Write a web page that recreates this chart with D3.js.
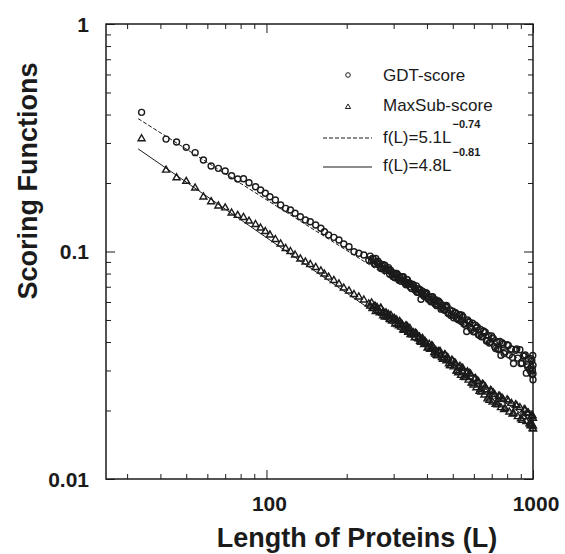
<!DOCTYPE html>
<html>
<head>
<meta charset="utf-8">
<script src="https://cdn.jsdelivr.net/npm/d3@7"></script>
<style>
  html, body { margin: 0; padding: 0; background: #fff; }
  svg { display: block; font-family: "Liberation Sans", Arial, sans-serif; }
</style>
</head>
<body>
<svg id="chart" width="565" height="554"></svg>
<script>
// ---- data ----
const lengths = [
  34,42,46,50,54,58,62,66,70,74,
  78,82,86,91,95,99,103,108,113,118,
  123,128,134,140,146,153,160,165,171,179,
  187,195,204,213,222,232,242,
  245,248,251,254,257,260,263,266,269,272,
  275,278,281,284,287,290,293,296,300,304,
  308,312,316,320,324,328,332,336,340,345,
  350,355,360,365,370,375,380,385,390,396,
  402,408,414,420,426,432,438,445,452,459,
  466,473,480,488,496,504,512,520,528,537,
  546,555,564,573,583,593,603,613,624,635,
  646,657,669,681,693,705,718,731,744,758,
  772,786,800,815,830,845,861,877,893,910,
  927,944,961,978,990,1000,
  950,985,995,998,1000,
  302,310,318,326,334,342,352,362,372,382,
  393,405,417,429,441,455,469,484,500,516,
  532,550,568,588,608,630,652,675,699,724,
  751,779,808,838,869,901,935,970,
  920,955,982,992,1000,
  250,256,262,268,274,280,286,292,298,306,
  314,322,330,338,347,357,367,377,388,399,
  411,423,435,448,462,476,492,508,524,541,
  559,578,598,618,640,662,686,710,737,765
];
const gdtScore = [
  0.409,0.312,0.303,0.287,0.272,0.2525,0.2375,0.232,0.2258,0.2154,
  0.2083,0.2089,0.2006,0.1927,0.1864,0.1802,0.1741,0.1684,0.1601,0.1548,
  0.1522,0.1472,0.1422,0.1375,0.1352,0.1308,0.1265,0.1222,0.1182,0.1154,
  0.1123,0.1079,0.105,0.0998,0.0982,0.0965,0.0918,
  0.0954,0.0909,0.0929,0.0885,0.0932,0.0895,0.0876,0.0887,0.0841,0.0861,
  0.0840,0.0870,0.0825,0.0838,0.0849,0.0795,0.0816,0.0790,0.0804,0.0767,
  0.0801,0.0765,0.0776,0.0740,0.0770,0.0747,0.0725,0.0754,0.0718,0.0723,
  0.0687,0.0714,0.0686,0.0706,0.0663,0.0677,0.0617,0.0669,0.0635,0.0659,
  0.0626,0.0632,0.0601,0.0633,0.0598,0.0613,0.0586,0.0600,0.0558,0.0580,
  0.0552,0.0579,0.0535,0.0554,0.0530,0.0511,0.0538,0.0508,0.0524,0.0494,
  0.0515,0.0482,0.0445,0.0492,0.0462,0.0484,0.0445,0.0461,0.0431,0.0454,
  0.0423,0.0440,0.0404,0.0427,0.0400,0.0417,0.0382,0.0401,0.0373,0.0350,
  0.0391,0.0362,0.0389,0.0351,0.0373,0.0322,0.0368,0.0340,0.0370,0.0323,
  0.0347,0.0292,0.0338,0.0298,0.0332,0.0273,
  0.0318,0.0309,0.0301,0.0349,0.0290,
  0.0770,0.0792,0.0758,0.0774,0.0714,0.0729,0.0719,0.0676,0.0687,0.0653,
  0.0650,0.0616,0.0630,0.0588,0.0606,0.0566,0.0571,0.0532,0.0547,0.0510,
  0.0527,0.0481,0.0500,0.0454,0.0474,0.0428,0.0447,0.0405,0.0425,0.0375,
  0.0402,0.0356,0.0386,0.0342,0.0373,0.0322,0.0351,0.0304,
  0.0347,0.0311,0.0338,0.0288,0.0316,
  0.0931,0.0880,0.0906,0.0853,0.0874,0.0826,0.0834,0.0828,0.0777,0.0788,
  0.0747,0.0774,0.0736,0.0750,0.0699,0.0704,0.0662,0.0680,0.0644,0.0655,
  0.0611,0.0618,0.0578,0.0591,0.0556,0.0572,0.0523,0.0536,0.0501,0.0525,
  0.0474,0.0489,0.0444,0.0466,0.0422,0.0442,0.0396,0.0414,0.0372,0.0397
];
const maxSubScore = [
  0.313,0.228,0.2109,0.2035,0.1901,0.1737,0.1655,0.1585,0.1556,0.1476,
  0.1442,0.1411,0.1361,0.1314,0.1268,0.1224,0.1182,0.1129,0.1079,0.1031,
  0.1,0.0965,0.0927,0.0899,0.0877,0.0851,0.0821,0.0796,0.0772,0.0746,
  0.072,0.0691,0.0671,0.0647,0.0631,0.0612,0.0588,
  0.0576,0.0595,0.0561,0.0573,0.0545,0.0568,0.0552,0.0538,0.0562,0.0536,
  0.0541,0.0515,0.0537,0.0517,0.0528,0.0504,0.0524,0.0495,0.0505,0.0480,
  0.0500,0.0480,0.0493,0.0465,0.0474,0.0450,0.0469,0.0455,0.0442,0.0459,
  0.0437,0.0440,0.0418,0.0434,0.0415,0.0421,0.0399,0.0415,0.0390,0.0397,
  0.0376,0.0391,0.0374,0.0383,0.0360,0.0367,0.0348,0.0362,0.0351,0.0336,
  0.0352,0.0331,0.0340,0.0315,0.0333,0.0311,0.0322,0.0299,0.0309,0.0286,
  0.0306,0.0284,0.0292,0.0272,0.0289,0.0264,0.0275,0.0252,0.0268,0.0248,
  0.0261,0.0234,0.0247,0.0229,0.0245,0.0218,0.0235,0.0216,0.0231,0.0206,
  0.0224,0.0204,0.0223,0.0197,0.0215,0.0194,0.0212,0.0188,0.0206,0.0181,
  0.0202,0.0179,0.0195,0.0172,0.0188,0.0166,
  0.0195,0.0172,0.0190,0.0167,0.0185,
  0.0508,0.0478,0.0482,0.0453,0.0472,0.0445,0.0430,0.0438,0.0413,0.0410,
  0.0404,0.0378,0.0386,0.0354,0.0364,0.0342,0.0350,0.0321,0.0330,0.0298,
  0.0313,0.0280,0.0296,0.0264,0.0277,0.0243,0.0259,0.0225,0.0243,0.0213,
  0.0231,0.0202,0.0220,0.0193,0.0210,0.0184,0.0201,0.0175,
  0.0188,0.0194,0.0176,0.0190,0.0171,
  0.0563,0.0574,0.0548,0.0563,0.0522,0.0533,0.0529,0.0501,0.0502,0.0497,
  0.0472,0.0480,0.0457,0.0467,0.0431,0.0438,0.0430,0.0403,0.0400,0.0394,
  0.0372,0.0377,0.0350,0.0364,0.0337,0.0343,0.0315,0.0324,0.0293,0.0308,
  0.0279,0.0291,0.0259,0.0270,0.0241,0.0254,0.0222,0.0239,0.0212,0.0227
];
// fitted power laws f(L) = a * L^b, from the legend
const fitNames = ["f(L)=5.1L", "f(L)=4.8L"];
const fitA = [5.1, 4.8];
const fitB = [-0.74, -0.81];
const fitExpLabels = ["\u22120.74", "\u22120.81"];
const fitRange = [33, 1000];
const seriesNames = ["GDT-score", "MaxSub-score"];

const xDomain = [25, 1000];
const yDomain = [0.01, 1];
const xMajorTicks = [100, 1000];
const xMinorTicks = [30,40,50,60,70,80,90,200,300,400,500,600,700,800,900];
const yMajorTicks = [0.01, 0.1, 1];
const yMinorTicks = [0.02,0.03,0.04,0.05,0.06,0.07,0.08,0.09,0.2,0.3,0.4,0.5,0.6,0.7,0.8,0.9];
const xTickLabels = ["100", "1000"];
const yTickLabels = ["0.01", "0.1", "1"];

// ---- drawing ----
const svg = d3.select("#chart");
const L = 106, R = 533, T = 24, B = 479;
const ink = "#1b1b1b";

const x = d3.scaleLog().domain(xDomain).range([L, R]);
const y = d3.scaleLog().domain(yDomain).range([B, T]);

// ticks (inside)
function tickAxis(axisFn, scale, values, size, tx, ty) {
  const g = svg.append("g").attr("transform", `translate(${tx},${ty})`)
    .call(axisFn(scale).tickValues(values).tickSize(size).tickFormat(""));
  g.select(".domain").remove();
  g.selectAll(".tick line").attr("stroke", ink).attr("stroke-width", 1);
}
tickAxis(d3.axisBottom, x, xMinorTicks, -5, 0, B);
tickAxis(d3.axisBottom, x, xMajorTicks, -9, 0, B);
tickAxis(d3.axisTop, x, xMinorTicks, -5, 0, T);
tickAxis(d3.axisTop, x, xMajorTicks, -9, 0, T);
tickAxis(d3.axisLeft, y, yMinorTicks, -5, L, 0);
tickAxis(d3.axisLeft, y, yMajorTicks, -9, L, 0);
tickAxis(d3.axisRight, y, yMinorTicks, -5, R, 0);
tickAxis(d3.axisRight, y, yMajorTicks, -9, R, 0);

// frame
svg.append("rect").attr("x", L).attr("y", T).attr("width", R - L).attr("height", B - T)
  .attr("fill", "none").attr("stroke", ink).attr("stroke-width", 1.5);

// tick labels
svg.selectAll(".xl").data(xMajorTicks).enter().append("text")
  .attr("x", d => x(d) + 3).attr("y", 511)
  .attr("text-anchor", "middle").attr("font-size", 21).attr("font-weight", "bold")
  .attr("fill", ink).text((d, i) => xTickLabels[i]);
svg.selectAll(".yl").data(yMajorTicks).enter().append("text")
  .attr("x", 89).attr("y", d => y(d)).attr("dy", "0.36em")
  .attr("text-anchor", "end").attr("font-size", 21).attr("font-weight", "bold")
  .attr("fill", ink).text((d, i) => yTickLabels[i]);

// axis titles
svg.append("text").attr("x", 357).attr("y", 547).attr("text-anchor", "middle")
  .attr("font-size", 27).attr("font-weight", "bold").attr("fill", ink)
  .text("Length of Proteins (L)");
svg.append("text").attr("transform", "translate(37,181) rotate(-90)")
  .attr("text-anchor", "middle").attr("font-size", 27).attr("font-weight", "bold")
  .attr("fill", ink).text("Scoring Functions");

// fit lines
const line = d3.line().x(d => x(d[0])).y(d => y(d[1]));
const fitDash = ["4,2", null];
fitA.forEach((a, i) => {
  const pts = fitRange.map(l => [l, a * Math.pow(l, fitB[i])]);
  svg.append("path").attr("d", line(pts)).attr("fill", "none")
    .attr("stroke", ink).attr("stroke-width", 1)
    .attr("stroke-dasharray", fitDash[i]);
});

// points
const pts = lengths.map((l, i) => ({ l, g: gdtScore[i], m: maxSubScore[i] }));
svg.append("g").selectAll("circle").data(pts).enter().append("circle")
  .attr("cx", d => x(d.l)).attr("cy", d => y(d.g)).attr("r", 3)
  .attr("fill", "none").attr("stroke", ink).attr("stroke-width", 1.4);
const tri = d3.symbol().type(d3.symbolTriangle).size(21);
svg.append("g").selectAll("path").data(pts).enter().append("path")
  .attr("d", tri).attr("transform", d => `translate(${x(d.l)},${y(d.m)})`)
  .attr("fill", "none").attr("stroke", ink).attr("stroke-width", 1.4);

// legend
const leg = svg.append("g");
leg.append("circle").attr("cx", 348).attr("cy", 75).attr("r", 2.3)
  .attr("fill", "none").attr("stroke", ink).attr("stroke-width", 1);
leg.append("path").attr("d", d3.symbol().type(d3.symbolTriangle).size(12))
  .attr("transform", "translate(348,107)")
  .attr("fill", "none").attr("stroke", ink).attr("stroke-width", 1);
const legY = [75, 105];
seriesNames.forEach((s, i) => {
  leg.append("text").attr("x", 383).attr("y", legY[i]).attr("dy", "0.36em")
    .attr("font-size", 17).attr("fill", ink).text(s);
});
const fitLegY = [138, 167];
const fitTextY = [143, 171];
fitNames.forEach((s, i) => {
  leg.append("line").attr("x1", 323).attr("x2", 372).attr("y1", fitLegY[i]).attr("y2", fitLegY[i])
    .attr("stroke", ink).attr("stroke-width", 1).attr("stroke-dasharray", fitDash[i]);
  const t = leg.append("text").attr("x", 383).attr("y", fitTextY[i])
    .attr("font-size", 17).attr("fill", ink).text(s);
  const w = t.node().getComputedTextLength();
  leg.append("text").attr("x", 383 + w + 1).attr("y", fitTextY[i] - 15)
    .attr("font-size", 11).attr("font-weight", "bold").attr("fill", ink).text(fitExpLabels[i]);
});
</script>
</body>
</html>
